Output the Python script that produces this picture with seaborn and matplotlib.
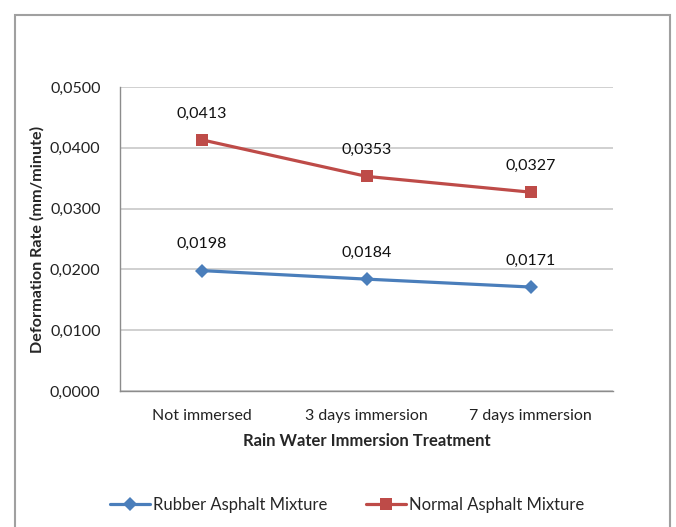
import pandas as pd
import matplotlib
matplotlib.use("Agg")
import matplotlib.pyplot as plt
import matplotlib.patches as mpatches
from matplotlib.ticker import FuncFormatter, FixedLocator
import seaborn as sns

# ---------------- Data ----------------
categories = ["Not immersed", "3 days immersion", "7 days immersion"]
rubber = [0.0198, 0.0184, 0.0171]
normal = [0.0413, 0.0353, 0.0327]
series_names = ["Rubber Asphalt Mixture", "Normal Asphalt Mixture"]

df = pd.DataFrame({
    "pos": list(range(len(categories))) * 2,
    "Treatment": categories * 2,
    "Rate": rubber + normal,
    "Series": [series_names[0]] * 3 + [series_names[1]] * 3,
})

sns.set_style("white")
plt.rcParams["font.family"] = ["Lato", "DejaVu Sans"]

blue = "#4a7ebb"
red = "#be4b48"

fig = plt.figure(figsize=(6.76, 5.27), dpi=100)
ax = fig.add_axes([120 / 676, 1 - 391 / 527, 493 / 676, 304 / 527])

sns.lineplot(data=df, x="pos", y="Rate", hue="Series", style="Series",
             palette={series_names[0]: blue, series_names[1]: red},
             markers={series_names[0]: "D", series_names[1]: "s"},
             dashes=False, linewidth=2.3, markersize=8.5,
             markeredgewidth=0, sort=False, ax=ax)
for ln in ax.lines:
    if ln.get_marker() == "D":
        ln.set_markersize(7.5)

# data labels
for _, r in df.iterrows():
    ax.annotate(f"{r['Rate']:.4f}".replace(".", ","), (r["pos"], r["Rate"]),
                xytext=(0, 14), textcoords="offset points", ha="center",
                va="bottom", fontsize=11.5, color="#111111")

# axes
ax.set_xlim(-0.5, 2.5)
ax.set_ylim(0, 0.05)
ax.yaxis.set_major_locator(FixedLocator([0, 0.01, 0.02, 0.03, 0.04, 0.05]))
ax.yaxis.set_major_formatter(FuncFormatter(lambda v, p: f"{v:.4f}".replace(".", ",")))
ax.xaxis.set_major_locator(FixedLocator([-0.5, 0.5, 1.5, 2.5]))
ax.xaxis.set_major_formatter(FuncFormatter(lambda v, p: ""))
ax.xaxis.set_minor_locator(FixedLocator([0, 1, 2]))
ax.set_xticklabels(categories, minor=True)
ax.tick_params(axis="x", which="major", length=5, color="#8c8c8c", direction="out")
ax.tick_params(axis="x", which="minor", length=0, pad=13, labelsize=11.5, labelcolor="#222222")
ax.tick_params(axis="y", length=5, color="#8c8c8c", direction="out", pad=9,
               labelsize=11.5, labelcolor="#222222")
ax.grid(axis="y", color="#c8c8c8", linewidth=1.2)
ax.set_axisbelow(True)
for s in ["top", "right"]:
    ax.spines[s].set_visible(False)
for s in ["left", "bottom"]:
    ax.spines[s].set_color("#8c8c8c")
    ax.spines[s].set_linewidth(1.0)

ax.set_xlabel("Rain Water Immersion Treatment", fontsize=12, fontweight="bold", labelpad=7)
ax.set_ylabel("Deformation Rate (mm/minute)", fontsize=11.6, fontweight="bold", labelpad=4)

# legend at bottom
handles, labels = ax.get_legend_handles_labels()
ax.legend_.remove()
fig.legend(handles, labels, loc="center", bbox_to_anchor=(347 / 676, 1 - 505 / 527),
           ncol=2, frameon=False, fontsize=12, handlelength=2.4, handletextpad=0.2,
           columnspacing=2.3)

# outer frame
frame = mpatches.Rectangle((15 / 676, -0.05), 655 / 676, 1.05 - 15 / 527,
                           transform=fig.transFigure, fill=False,
                           edgecolor="#a0a0a0", linewidth=1.5)
fig.patches.append(frame)

fig.savefig("out.png", dpi=100)
